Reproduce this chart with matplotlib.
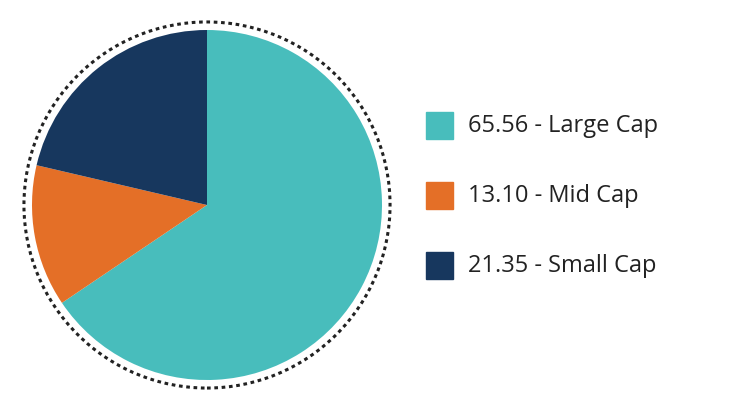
import matplotlib
matplotlib.use("Agg")
import matplotlib.pyplot as plt
from matplotlib.patches import Circle, Rectangle

labels = ["Large Cap", "Mid Cap", "Small Cap"]
values = [65.56, 13.10, 21.35]
colors = ["#48BDBC", "#E46F27", "#17375E"]

W, H = 742, 405
fig = plt.figure(figsize=(W / 100, H / 100), dpi=100)
fig.patch.set_facecolor("white")

ax = fig.add_axes([32 / W, 25 / H, 350 / W, 350 / H])
ax.pie(values, colors=colors, startangle=90, counterclock=False,
       wedgeprops=dict(linewidth=0))
ax.add_patch(Circle((0, 0), 1.046, fill=False, linestyle=(0, (1.2, 1.2)),
                    linewidth=2.2, edgecolor="#222222", clip_on=False))
ax.set_xlim(-1, 1)
ax.set_ylim(-1, 1)
ax.set_aspect("equal")
ax.axis("off")

# legend
lx = fig.add_axes([0, 0, 1, 1])
lx.set_xlim(0, W)
lx.set_ylim(H, 0)
lx.axis("off")
for i, (lab, v, c) in enumerate(zip(labels, values, colors)):
    y = 126 + i * 70
    lx.add_patch(Rectangle((426, y - 14), 27, 27, color=c))
    lx.text(468, y, f"{v:.2f} - {lab}", fontsize=17, va="center",
            ha="left", color="#222222", family="Open Sans")

fig.savefig("out.png", dpi=100)
